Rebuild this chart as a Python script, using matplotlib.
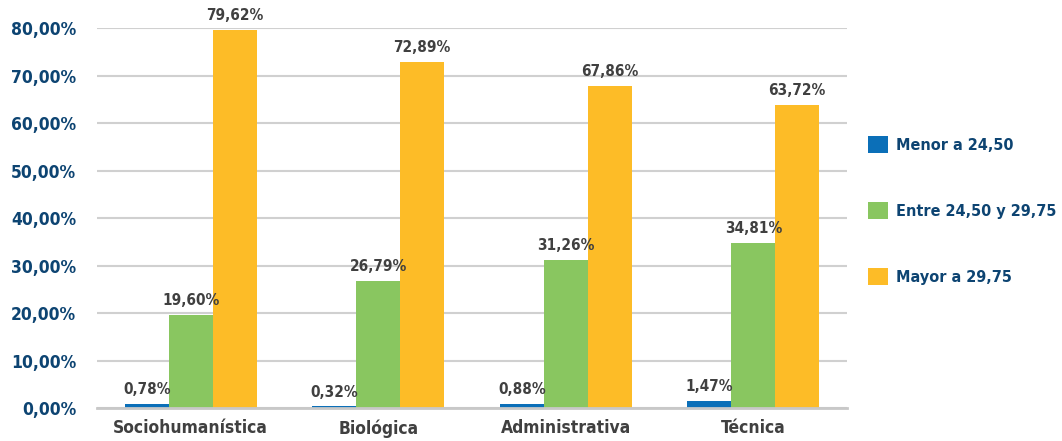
import matplotlib
matplotlib.use("Agg")
import matplotlib.pyplot as plt
import numpy as np

categories = ["Sociohumanística", "Biológica", "Administrativa", "Técnica"]
series_names = ["Menor a 24,50", "Entre 24,50 y 29,75", "Mayor a 29,75"]
menor = [0.78, 0.32, 0.88, 1.47]
entre = [19.60, 26.79, 31.26, 34.81]
mayor = [79.62, 72.89, 67.86, 63.72]
yticks = [0, 10, 20, 30, 40, 50, 60, 70, 80]

colors = ["#0b6fb8", "#89c660", "#fdbc27"]
navy = "#0d4472"
gray = "#404040"

FONT = dict(family="DejaVu Sans", fontstretch="condensed", fontweight="bold")

fig = plt.figure(figsize=(10.62, 4.41), dpi=100)
ax = fig.add_axes([0.0913, 0.0748, 0.7063, 0.8617])

x = np.arange(len(categories))
w = 0.234
series = [menor, entre, mayor]
handles = []
for i, vals in enumerate(series):
    pos = x + (i - 1) * w
    b = ax.bar(pos, vals, width=w, color=colors[i], label=series_names[i], zorder=3)
    handles.append(b)
    for p, v in zip(pos, vals):
        ax.annotate(f"{v:.2f}%".replace(".", ","), (p, v), xytext=(0, 5),
                    textcoords="offset points", ha="center", va="bottom",
                    fontsize=11, color=gray, zorder=5, **FONT)

ax.set_xlim(-0.5, len(categories) - 0.5)
ax.set_ylim(0, 80)
ax.set_yticks(yticks)
ax.set_yticklabels([f"{t:.2f}%".replace(".", ",") for t in yticks],
                   fontsize=12.5, color=navy, **FONT)
ax.set_xticks(x)
ax.set_xticklabels(categories, fontsize=12.5, color=gray, **FONT)
ax.tick_params(axis="both", length=0)
ax.tick_params(axis="y", pad=15)
ax.tick_params(axis="x", pad=8)
ax.grid(axis="y", color="#d0d0d0", linewidth=1.5, zorder=0)
for s in ["top", "right", "left"]:
    ax.spines[s].set_visible(False)
ax.spines["bottom"].set_color("#c8c8c8")
ax.spines["bottom"].set_linewidth(2)
ax.spines["bottom"].set_zorder(4)

leg = fig.legend(handles=handles, labels=series_names, loc="center left",
                 bbox_to_anchor=(0.804, 0.522), frameon=False,
                 prop=dict(family="DejaVu Sans", stretch="condensed", weight="bold", size=11.6),
                 labelspacing=3.05, handlelength=1.25, handleheight=1.25, handletextpad=0.45)
for t in leg.get_texts():
    t.set_color(navy)

fig.savefig("out.png", dpi=100)
